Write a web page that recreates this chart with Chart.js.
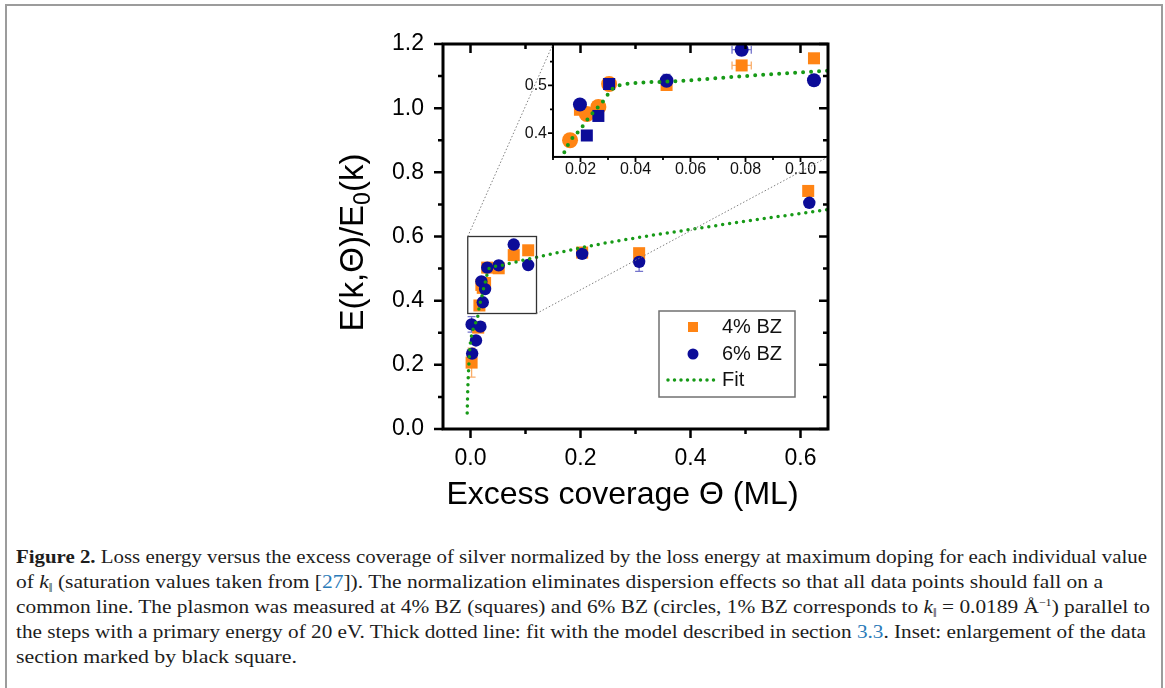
<!DOCTYPE html>
<html>
<head>
<meta charset="utf-8">
<script src="https://cdn.jsdelivr.net/npm/chart.js@4.4.1/dist/chart.umd.min.js"></script>
<style>
  html, body { margin: 0; background: #fff; }
  #page { position: relative; width: 1165px; height: 688px; overflow: hidden; background: #fff; }
  #frame { position: absolute; left: 5px; top: 4px; width: 1154px; height: 720px; border: 2px solid #9c9c9c; border-bottom: none; }
  canvas { position: absolute; left: 0; top: 0; }
  #main { z-index: 2; }
  #inset { z-index: 1; }
  .cap { position: absolute; left: 16px; height: 25px; line-height: 25px; white-space: nowrap;
         font-family: "Liberation Serif", "DejaVu Serif", serif; font-size: 19.5px; color: #1d1d1d;
         transform-origin: 0 50%; }
  .cap sub { font-size: 12px; vertical-align: -4px; line-height: 0; }
  .cap sup { font-size: 11px; vertical-align: 7px; line-height: 0; }
  .ref { color: #2b7bb9; }
</style>
</head>
<body>
<div id="page">
  <div id="frame"></div>
  <canvas id="inset" width="1165" height="520"></canvas>
  <canvas id="main" width="1165" height="520"></canvas>

  <div class="cap" style="top:544px" data-w="1131"><b>Figure 2.</b> Loss energy versus the excess coverage of silver normalized by the loss energy at maximum doping for each individual value</div>
  <div class="cap" style="top:569px" data-w="1087">of <i>k</i><sub>‖</sub> (saturation values taken from [<span class="ref">27</span>]). The normalization eliminates dispersion effects so that all data points should fall on a</div>
  <div class="cap" style="top:594px" data-w="1134">common line. The plasmon was measured at 4% BZ (squares) and 6% BZ (circles, 1% BZ corresponds to <i>k</i><sub>‖</sub> = 0.0189 Å<sup>−1</sup>) parallel to</div>
  <div class="cap" style="top:619px" data-w="1130">the steps with a primary energy of 20 eV. Thick dotted line: fit with the model described in section <span class="ref">3.3</span>. Inset: enlargement of the data</div>
  <div class="cap" style="top:644px" data-w="281">section marked by black square.</div>
</div>

<script>
// ticks
const xTicks = [0, 0.2, 0.4, 0.6];
const xMinor = [0.1, 0.3, 0.5];
const yTicks = [0, 0.2, 0.4, 0.6, 0.8, 1.0, 1.2];
const yMinor = [0.1, 0.3, 0.5, 0.7, 0.9, 1.1];
const insetXTicks = [0.02, 0.04, 0.06, 0.08, 0.10];
const insetXMinor = [0.01, 0.03, 0.05, 0.07, 0.09, 0.11];
const insetYTicks = [0.4, 0.5];
const insetYMinor = [0.45, 0.55];

// 4% BZ (orange)
const bz4X    = [0.002, 0.014, 0.0162, 0.0198, 0.0223, 0.0265, 0.0304, 0.0513, 0.0786, 0.1049, 0.203, 0.3066, 0.614];
const bz4Y    = [0.207, 0.316, 0.385, 0.449, 0.440, 0.455, 0.503, 0.501, 0.542, 0.557, 0.550, 0.548, 0.742];
const bz4ErrY = [0.045, 0, 0, 0, 0, 0, 0, 0, 0.006, 0.006, 0, 0.01, 0.015];
const bz4ErrX = [0, 0, 0, 0, 0, 0, 0, 0, 0.0035, 0, 0, 0, 0];
const bz4InsetShape = ['rect', 'rect', 'circle', 'rect', 'circle', 'circle', 'circle', 'rect', 'rect', 'rect', 'rect', 'rect', 'rect'];

// 6% BZ (blue)
const bz6X    = [0.002, 0.003, 0.010, 0.018, 0.0198, 0.0223, 0.0265, 0.0304, 0.0513, 0.0786, 0.1049, 0.203, 0.3066, 0.616];
const bz6Y    = [0.326, 0.235, 0.276, 0.319, 0.460, 0.395, 0.436, 0.503, 0.510, 0.575, 0.511, 0.546, 0.521, 0.705];
const bz6ErrY = [0.024, 0, 0, 0, 0.01, 0, 0, 0, 0.013, 0.012, 0, 0.01, 0.03, 0.012];
const bz6ErrX = [0, 0, 0, 0, 0, 0, 0, 0, 0, 0.0035, 0, 0, 0, 0];
const bz6InsetShape = ['circle', 'circle', 'circle', 'circle', 'circle', 'rect', 'rect', 'rect', 'circle', 'circle', 'circle', 'circle', 'circle', 'circle'];

// fit curve
const fitX = [-0.006, -0.005, -0.003, -0.001, 0.003, 0.008, 0.0132, 0.0162, 0.0198, 0.0234, 0.0281, 0.0313, 0.0331, 0.0513, 0.078, 0.1095, 0.234, 0.40, 0.653];
const fitY = [0.05, 0.12, 0.20, 0.255, 0.30, 0.325, 0.351, 0.383, 0.407, 0.435, 0.466, 0.491, 0.499, 0.508, 0.519, 0.531, 0.576, 0.622, 0.685];

const ORANGE = '#ff8414';
const BLUE = '#0c0c98';
const GREEN = '#179a17';

Chart.defaults.font.family = '"Liberation Sans", Arial, sans-serif';
Chart.defaults.color = '#000';

const pts = (xs, ys) => xs.map((x, i) => ({ x, y: ys[i] }));

// error bars drawn under the markers
const errorBars = {
  id: 'errorBars',
  beforeDatasetsDraw(chart) {
    const { ctx, chartArea: a, scales: { x, y } } = chart;
    ctx.save();
    ctx.beginPath();
    ctx.rect(a.left, a.top, a.right - a.left, a.bottom - a.top);
    ctx.clip();
    chart.data.datasets.forEach(ds => {
      if (!ds.errY) return;
      ctx.strokeStyle = ds.errColor;
      ctx.lineWidth = 1.3;
      ds.data.forEach((p, i) => {
        const px = x.getPixelForValue(p.x), py = y.getPixelForValue(p.y);
        const ey = ds.errY[i], ex = ds.errX[i];
        ctx.beginPath();
        if (ey) {
          const t = y.getPixelForValue(p.y + ey), b = y.getPixelForValue(p.y - ey);
          ctx.moveTo(px, t); ctx.lineTo(px, b);
          ctx.moveTo(px - 4, t); ctx.lineTo(px + 4, t);
          ctx.moveTo(px - 4, b); ctx.lineTo(px + 4, b);
        }
        if (ex) {
          const l = x.getPixelForValue(p.x - ex), r = x.getPixelForValue(p.x + ex);
          ctx.moveTo(l, py); ctx.lineTo(r, py);
          ctx.moveTo(l, py - 4); ctx.lineTo(l, py + 4);
          ctx.moveTo(r, py - 4); ctx.lineTo(r, py + 4);
        }
        ctx.stroke();
      });
    });
    ctx.restore();
  }
};

// where the zoom box and the inset sit, in main-axis values
const zoomBox = { x0: -0.005, x1: 0.12, y0: 0.36, y1: 0.60 };
const insetBox = { x0: 0.15, x1: 0.65, y0: 0.848, y1: 1.2 };

const mainDecor = {
  id: 'mainDecor',
  afterDraw(chart) {
    const { ctx, chartArea: a, scales: { x, y } } = chart;
    ctx.save();

    // zoom rectangle + connector lines
    const zl = x.getPixelForValue(zoomBox.x0), zr = x.getPixelForValue(zoomBox.x1);
    const zt = y.getPixelForValue(zoomBox.y1), zb = y.getPixelForValue(zoomBox.y0);
    ctx.strokeStyle = '#333';
    ctx.lineWidth = 1.3;
    ctx.strokeRect(zl, zt, zr - zl, zb - zt);
    ctx.strokeStyle = '#808080';
    ctx.lineWidth = 1;
    ctx.setLineDash([1.5, 2]);
    ctx.beginPath();
    ctx.moveTo(zl, zt); ctx.lineTo(x.getPixelForValue(insetBox.x0), y.getPixelForValue(insetBox.y1));
    ctx.moveTo(zr, zb); ctx.lineTo(x.getPixelForValue(insetBox.x1), y.getPixelForValue(insetBox.y0));
    ctx.stroke();
    ctx.setLineDash([]);

    // frame and ticks
    ctx.strokeStyle = '#000';
    ctx.lineWidth = 3;
    ctx.strokeRect(a.left, a.top, a.right - a.left, a.bottom - a.top);
    ctx.lineWidth = 2.5;
    ctx.beginPath();
    const tick = (px, py, dx, dy) => { ctx.moveTo(px, py); ctx.lineTo(px + dx, py + dy); };
    const xs = (list, L) => list.forEach(v => { const p = x.getPixelForValue(v); tick(p, a.bottom, 0, L); tick(p, a.top, 0, L); });
    const ys = (list, L) => list.forEach(v => { const p = y.getPixelForValue(v); tick(a.left, p, -L, 0); tick(a.right, p, -L, 0); });
    xs(xTicks, 9); xs(xMinor, 5); ys(yTicks, 9); ys(yMinor, 5);
    ctx.stroke();

    // legend
    const lx = a.right - 169, ly = a.top + 267, lw = 136, lh = 86;
    ctx.fillStyle = '#fff';
    ctx.fillRect(lx, ly, lw, lh);
    ctx.strokeStyle = '#707070';
    ctx.lineWidth = 1.5;
    ctx.strokeRect(lx, ly, lw, lh);
    const ds = chart.data.datasets;
    const fit = ds[0], b6 = ds[1], b4 = ds[2];
    ctx.font = '20px "Liberation Sans", Arial, sans-serif';
    ctx.textBaseline = 'middle';
    ctx.fillStyle = b4.backgroundColor;
    ctx.fillRect(lx + 29, ly + 11, 10, 10);
    ctx.fillStyle = b6.backgroundColor;
    ctx.beginPath(); ctx.arc(lx + 34, ly + 43, 5.5, 0, Math.PI * 2); ctx.fill();
    ctx.strokeStyle = fit.borderColor;
    ctx.lineWidth = 3.5;
    ctx.lineCap = 'round';
    ctx.setLineDash([0, 6.5]);
    ctx.beginPath(); ctx.moveTo(lx + 9, ly + 69); ctx.lineTo(lx + 57, ly + 69); ctx.stroke();
    ctx.setLineDash([]);
    ctx.fillStyle = '#111';
    ctx.fillText(b4.label, lx + 63, ly + 16);
    ctx.fillText(b6.label, lx + 63, ly + 43);
    ctx.fillText(fit.label, lx + 63, ly + 69);

    // axis titles
    ctx.fillStyle = '#000';
    ctx.textAlign = 'center';
    ctx.textBaseline = 'middle';
    ctx.font = '32px "Liberation Sans", Arial, sans-serif';
    ctx.fillText('Excess coverage Θ (ML)', (a.left + a.right) / 2 - 13, a.bottom + 66);

    ctx.translate(a.left - 92, (a.top + a.bottom) / 2 + 6);
    ctx.rotate(-Math.PI / 2);
    ctx.textAlign = 'left';
    ctx.textBaseline = 'alphabetic';
    const big = '33px "Liberation Sans", Arial, sans-serif';
    const small = '23px "Liberation Sans", Arial, sans-serif';
    const parts = [['E(k,Θ)/E', big, 0], ['0', small, 7], ['(k)', big, 0]];
    let total = 0;
    parts.forEach(p => { ctx.font = p[1]; total += ctx.measureText(p[0]).width; });
    let cx = -total / 2;
    parts.forEach(p => { ctx.font = p[1]; ctx.fillText(p[0], cx, 12 + p[2]); cx += ctx.measureText(p[0]).width; });
    ctx.restore();
  }
};

const insetDecor = {
  id: 'insetDecor',
  afterDraw(chart) {
    const { ctx, chartArea: a, scales: { x, y } } = chart;
    ctx.save();
    ctx.strokeStyle = '#000';
    ctx.lineWidth = 2;
    ctx.strokeRect(a.left, a.top, a.right - a.left, a.bottom - a.top);
    ctx.lineWidth = 1.8;
    ctx.beginPath();
    insetXTicks.forEach(v => { const p = x.getPixelForValue(v); ctx.moveTo(p, a.bottom); ctx.lineTo(p, a.bottom + 5); });
    insetXMinor.forEach(v => { const p = x.getPixelForValue(v); ctx.moveTo(p, a.bottom); ctx.lineTo(p, a.bottom + 3); });
    insetYTicks.forEach(v => { const p = y.getPixelForValue(v); ctx.moveTo(a.left, p); ctx.lineTo(a.left - 5, p); });
    insetYMinor.forEach(v => { const p = y.getPixelForValue(v); ctx.moveTo(a.left, p); ctx.lineTo(a.left - 3, p); });
    ctx.stroke();
    ctx.restore();
  }
};

const mainChart = new Chart(document.getElementById('main'), {
  type: 'scatter',
  data: {
    datasets: [
      { label: 'Fit', data: pts(fitX, fitY), showLine: true, pointRadius: 0, borderColor: GREEN,
        borderWidth: 3.5, borderDash: [0, 7], borderCapStyle: 'round', cubicInterpolationMode: 'monotone' },
      { label: '6% BZ', data: pts(bz6X, bz6Y), pointStyle: 'circle', pointRadius: 6.2, backgroundColor: BLUE,
        borderWidth: 0, errY: bz6ErrY, errX: bz6ErrX, errColor: '#7474cc' },
      { label: '4% BZ', data: pts(bz4X, bz4Y), pointStyle: 'rect', pointRadius: 8.5, backgroundColor: ORANGE,
        borderWidth: 0, errY: bz4ErrY, errX: bz4ErrX, errColor: '#f9ad6a' }
    ]
  },
  options: {
    responsive: false,
    animation: false,
    devicePixelRatio: 1,
    layout: { autoPadding: false, padding: { left: 343, right: 337, top: 44, bottom: 1 } },
    plugins: { legend: { display: false }, tooltip: { enabled: false } },
    scales: {
      x: {
        type: 'linear', min: -0.05, max: 0.65,
        afterFit: s => { s.height = 90; },
        afterBuildTicks: s => { s.ticks = xTicks.map(v => ({ value: v })); },
        grid: { display: false, drawTicks: false },
        border: { display: false },
        ticks: { padding: 16, font: { size: 23 }, color: '#000', maxRotation: 0, autoSkip: false, callback: v => v.toFixed(1) }
      },
      y: {
        type: 'linear', min: 0, max: 1.2,
        afterFit: s => { s.width = 100; },
        afterBuildTicks: s => { s.ticks = yTicks.map(v => ({ value: v })); },
        grid: { display: false, drawTicks: false },
        border: { display: false },
        ticks: { padding: 19, font: { size: 23 }, color: '#000', autoSkip: false, callback: v => v.toFixed(1) }
      }
    }
  },
  plugins: [errorBars, mainDecor]
});

// inset: same-size canvas underneath, padded so its plot area fills insetBox of the main chart
const mx = mainChart.scales.x, my = mainChart.scales.y;
const iLeft = mx.getPixelForValue(insetBox.x0), iRight = mx.getPixelForValue(insetBox.x1);
const iTop = my.getPixelForValue(insetBox.y1), iBottom = my.getPixelForValue(insetBox.y0);
const yW = 42, xH = 26;

new Chart(document.getElementById('inset'), {
  type: 'scatter',
  data: {
    datasets: [
      { label: 'Fit', data: pts(fitX, fitY), showLine: true, pointRadius: 0, borderColor: GREEN,
        borderWidth: 4, borderDash: [0, 8], borderCapStyle: 'round', cubicInterpolationMode: 'monotone' },
      { label: '6% BZ', data: pts(bz6X, bz6Y), backgroundColor: BLUE, borderWidth: 0,
        pointStyle: c => bz6InsetShape[c.dataIndex], pointRadius: c => bz6InsetShape[c.dataIndex] === 'rect' ? 8.5 : 7,
        errY: bz6ErrY, errX: bz6ErrX, errColor: '#7474cc' },
      { label: '4% BZ', data: pts(bz4X, bz4Y), backgroundColor: ORANGE, borderWidth: 0,
        pointStyle: c => bz4InsetShape[c.dataIndex], pointRadius: c => bz4InsetShape[c.dataIndex] === 'rect' ? 8.5 : 8,
        errY: bz4ErrY, errX: bz4ErrX, errColor: '#f9ad6a' }
    ]
  },
  options: {
    responsive: false,
    animation: false,
    devicePixelRatio: 1,
    layout: { autoPadding: false, padding: { left: iLeft - yW, right: 1165 - iRight, top: iTop, bottom: 520 - iBottom - xH } },
    plugins: { legend: { display: false }, tooltip: { enabled: false } },
    scales: {
      x: {
        type: 'linear', min: 0.01, max: 0.11,
        afterFit: s => { s.height = xH; },
        afterBuildTicks: s => { s.ticks = insetXTicks.map(v => ({ value: v })); },
        grid: { display: false, drawTicks: false },
        border: { display: false },
        ticks: { padding: 3, font: { size: 16 }, color: '#111', maxRotation: 0, autoSkip: false, callback: v => v.toFixed(2) }
      },
      y: {
        type: 'linear', min: 0.35, max: 0.587,
        afterFit: s => { s.width = yW; },
        afterBuildTicks: s => { s.ticks = insetYTicks.map(v => ({ value: v })); },
        grid: { display: false, drawTicks: false },
        border: { display: false },
        ticks: { padding: 6, font: { size: 16 }, color: '#111', autoSkip: false, callback: v => v.toFixed(1) }
      }
    }
  },
  plugins: [errorBars, insetDecor]
});

// caption lines stretched to the widths of the original typesetting
document.querySelectorAll('.cap').forEach(el => {
  const w = el.getBoundingClientRect().width;
  el.style.transform = 'scaleX(' + (+el.dataset.w / w) + ')';
});
</script>
</body>
</html>
